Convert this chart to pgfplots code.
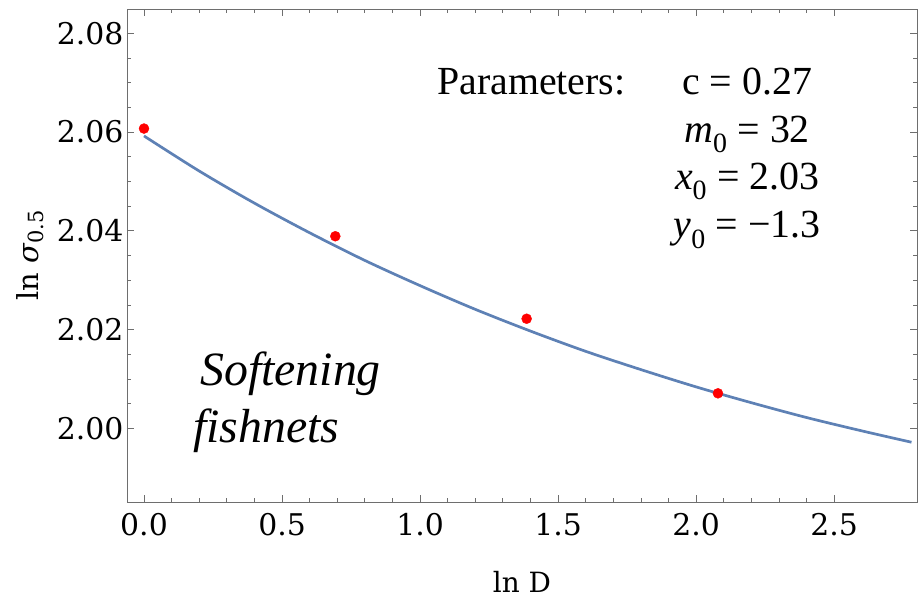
\documentclass[border=0pt]{standalone}
\usepackage{fontspec}
\setmainfont{Liberation Serif}
\newfontfamily\tickfont{DejaVu Serif}
\usepackage{pgfplots}
\pgfplotsset{compat=1.18}
\definecolor{mblue}{RGB}{94,129,181}
\definecolor{framegray}{RGB}{110,110,110}
\begin{document}
\begin{tikzpicture}
\begin{axis}[
  at={(0,0)}, anchor=south west,
  scale only axis, width=790bp, height=493bp,
  xmin=-0.0616, xmax=2.80, ymin=1.9851, ymax=2.0849,
  xtick={0,0.5,1,1.5,2,2.5},
  ytick={2.00,2.02,2.04,2.06,2.08},
  minor x tick num=4, minor y tick num=3,
  major tick length=7bp, minor tick length=4bp,
  tick align=inside, tick pos=both,
  axis line style={framegray, line width=0.8bp},
  every tick/.style={framegray, line width=0.8bp},
  /pgf/number format/assume math mode=true,
  xticklabel style={/pgf/number format/fixed,/pgf/number format/fixed zerofill,/pgf/number format/precision=1, yshift=-8bp},
  yticklabel style={/pgf/number format/fixed,/pgf/number format/fixed zerofill,/pgf/number format/precision=2},
  scaled ticks=false,
  tick label style={font=\tickfont\fontsize{30}{32}\selectfont, black},
  xlabel={ln D},
  ylabel={ln \textit{σ}\raisebox{-0.35ex}{\fontsize{21}{23}\selectfont 0.5}},
  every axis x label/.style={at={(rel axis cs:0.5,0)}, anchor=center, yshift=-80bp, font=\tickfont\fontsize{28}{30}\selectfont},
  every axis y label/.style={at={(rel axis cs:0,0.5)}, anchor=center, xshift=-97bp, rotate=90, font=\tickfont\fontsize{29}{31}\selectfont},
  clip=false,
]
\addplot[mblue, line width=2.7bp, smooth] coordinates {
  (0.00,2.0592) (0.20,2.0521) (0.40,2.0456) (0.60,2.0396) (0.80,2.0340)
  (1.00,2.0289) (1.20,2.0241) (1.40,2.0197) (1.60,2.0156) (1.80,2.0119)
  (2.00,2.0084) (2.20,2.0052) (2.40,2.0022) (2.60,1.9995) (2.78,1.9972)
};
\addplot[only marks, mark=*, mark size=5bp, mark options={fill=red, draw=red}] coordinates {
  (0.000,2.0607) (0.693,2.0389) (1.386,2.0222) (2.079,2.0071)
};
\node[anchor=base west, font=\fontsize{40}{44}\selectfont, inner sep=0pt] at (rel axis cs:0.3924,0.8256) {Parameters:};
\node[anchor=base, font=\fontsize{40}{44}\selectfont] at (rel axis cs:0.785,0.8256) {c = 0.27};
\node[anchor=base, font=\fontsize{40}{44}\selectfont] at (rel axis cs:0.785,0.7302) {\textit{m}\textsubscript{0} = 32};
\node[anchor=base, font=\fontsize{40}{44}\selectfont] at (rel axis cs:0.785,0.6329) {\textit{x}\textsubscript{0} = 2.03};
\node[anchor=base, font=\fontsize{40}{44}\selectfont] at (rel axis cs:0.785,0.5355) {\textit{y}\textsubscript{0} = −1.3};
\node[anchor=base west, font=\itshape\fontsize{48}{52}\selectfont, inner sep=0pt] at (rel axis cs:0.0924,0.2373) {Softening};
\node[anchor=base west, font=\itshape\fontsize{48}{52}\selectfont, inner sep=0pt] at (rel axis cs:0.0835,0.1217) {fishnets};
\end{axis}
\pgfresetboundingbox
\path[use as bounding box] (-127bp,-98bp) rectangle (795bp,502bp);
\end{tikzpicture}
\end{document}
